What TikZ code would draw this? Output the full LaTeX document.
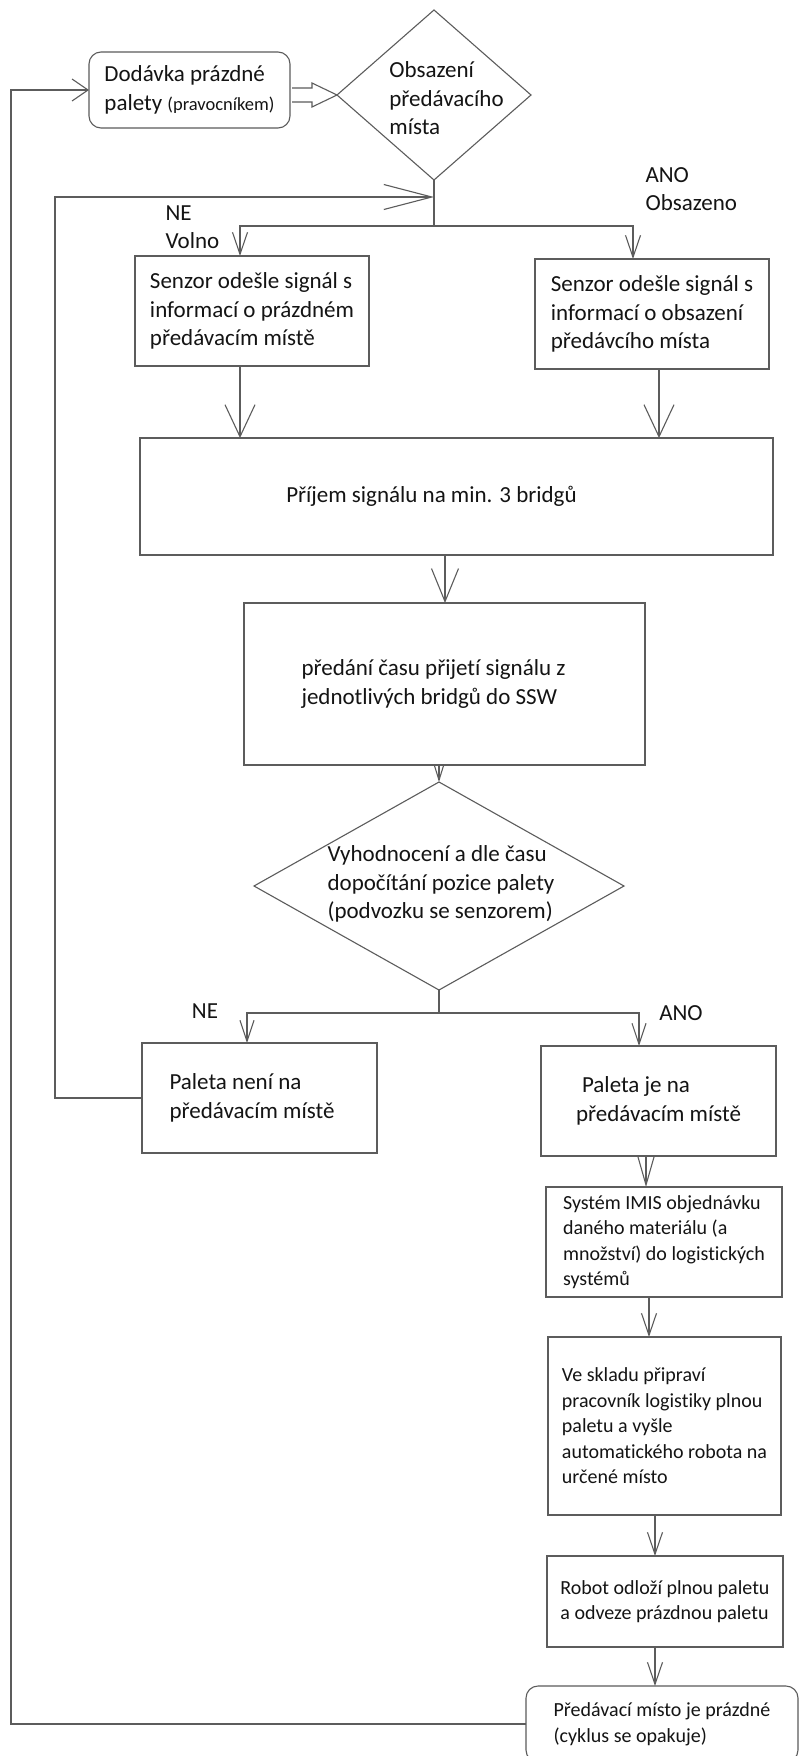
\documentclass[tikz,border=0pt]{standalone}
\usepackage{fontspec}
\setmainfont[Ligatures=NoCommon]{Carlito}
\usetikzlibrary{arrows.meta,shapes.geometric,positioning}
\definecolor{linka}{gray}{0.36}
\definecolor{pismo}{gray}{0.08}

\begin{document}
\begin{tikzpicture}[x=1pt, y=-1pt, line width=1.1pt,
  krok/.style={draw=linka, rectangle, align=left, inner sep=0pt, outer sep=0pt,
    text=pismo, font=\fontsize{23}{28.5}\selectfont},
  krokmaly/.style={krok, font=\fontsize{20}{25.5}\selectfont},
  rozhod/.style={draw=linka, diamond, inner sep=0pt, outer sep=0pt},
  popis/.style={text=pismo, align=left, inner sep=0pt, font=\fontsize{23}{28.5}\selectfont},
  cara/.style={draw=linka},
  sipka/.style={draw=linka, -{Straight Barb[length=22pt, width=15pt]}},
  velka/.style={-{Straight Barb[length=32pt, width=30pt]}}]

  \clip (0,0) rectangle (802,1756);
  \fill[white] (0,0) rectangle (802,1756);

  % start and first decision
  \node[krok, rounded corners=12pt, minimum width=201pt, minimum height=76pt] (start) at (189.5,90)
    {Dodávka prázdné\\palety {\fontsize{18.5}{22}\selectfont(pravocníkem)}};
  \node[rozhod, minimum width=194pt, minimum height=170pt] (q1) at (434,95) {};
  \node[popis] (q1txt) at (446.5,98.5) {Obsazení\\předávacího\\místa};

  % branch labels
  \node[popis, anchor=west] (lblNE1) at (165,227) {NE\\Volno};
  \node[popis, anchor=west] (lblANO1) at (645,189) {ANO\\Obsazeno};

  % sensor boxes
  \node[krok, minimum width=234pt, minimum height=110pt] (senL) at (252,311)
    {Senzor odešle signál s\\informací o prázdném\\předávacím místě};
  \node[krok, minimum width=234pt, minimum height=110pt] (senR) at (652,314)
    {Senzor odešle signál s\\informací o obsazení\\předávcího místa};

  % bridges
  \node[krok, minimum width=633pt, minimum height=117pt] (prijem) at (456.5,496.5)
    {Příjem signálu na min. 3 bridgů\hspace*{50pt}};
  \node[krok, minimum width=401pt, minimum height=162pt] (predani) at (444.5,684)
    {předání času přijetí signálu z\hspace*{22pt}\\jednotlivých bridgů do SSW};

  % second decision
  \node[rozhod, minimum width=370pt, minimum height=208pt] (q2) at (439,886) {};
  \node[popis] (q2txt) at (441,884)
    {Vyhodnocení a dle času\\dopočítání pozice palety\\(podvozku se senzorem)};
  \node[popis] (lblNE2) at (205,1011) {NE};
  \node[popis] (lblANO2) at (681,1013) {ANO};

  \node[krok, minimum width=235pt, minimum height=110pt] (nene) at (259.5,1098)
    {Paleta není na\\předávacím místě\hspace*{15pt}};
  \node[krok, minimum width=235pt, minimum height=110pt] (ano) at (658.5,1101)
    {\hspace*{6pt}Paleta je na\\předávacím místě};

  % logistics chain
  \node[krokmaly, minimum width=236pt, minimum height=110pt] (imis) at (664,1242)
    {Systém IMIS objednávku\\daného materiálu (a\\množství) do logistických\\systémů};
  \node[krokmaly, minimum width=233pt, minimum height=178pt] (sklad) at (664.5,1426)
    {Ve skladu připraví\\pracovník logistiky plnou\\paletu a vyšle\\automatického robota na\\určené místo};
  \node[krokmaly, minimum width=236pt, minimum height=91pt] (robot) at (665,1601.5)
    {Robot odloží plnou paletu\\a odveze prázdnou paletu};
  \node[krokmaly, rounded corners=12pt, anchor=north west, minimum width=272pt, minimum height=76pt]
    (konec) at (526,1686) {Předávací místo je prázdné\\(cyklus se opakuje)};

  % helper points
  \coordinate (split1) at (434,226);
  \coordinate (join1) at (434,197);
  \coordinate (fbroh) at (55,197);
  \coordinate (split2) at (439,1013);
  \coordinate (loopL) at (11,1724);
  \coordinate (kL) at (240,0);
  \coordinate (kR) at (633,0);
  \coordinate (kR2) at (659,0);
  \coordinate (kM) at (445,0);
  \coordinate (kNE) at (247,0);
  \coordinate (kANO) at (639,0);
  \coordinate (kS1) at (646,0);
  \coordinate (kS2) at (649,0);
  \coordinate (kS3) at (655,0);

  % start -> q1 (hollow arrow)
  \draw[cara] (q1.west) ++(-45,-7) -- ++(20,0) -- ++(0,-5) -- (q1.west)
    -- ++(-25,12) -- ++(0,-5) -- ++(-20,0);

  % q1 branches
  \draw[cara] (q1.south) -- (split1);
  \draw[sipka] (split1) -| (senL.north -| kL);
  \draw[sipka] (split1) -| (senR.north -| kR);
  \draw[sipka, velka] (senL.south -| kL) -- (prijem.north -| kL);
  \draw[sipka, velka] (senR.south -| kR2) -- (prijem.north -| kR2);
  \draw[sipka, -{Straight Barb[length=33pt, width=27pt]}] (prijem.south -| kM) -- (predani.north -| kM);
  \draw[sipka, -{Straight Barb[length=16pt, width=10pt]}] (predani.south -| q2.north) -- (q2.north);

  % q2 branches
  \draw[cara] (q2.south) -- (split2);
  \draw[sipka, -{Straight Barb[length=21pt, width=14pt]}] (split2) -| (nene.north -| kNE);
  \draw[sipka, -{Straight Barb[length=21pt, width=14pt]}] (split2) -| (ano.north -| kANO);

  % back to the first decision
  \draw[sipka, -{Straight Barb[length=48pt, width=25pt]}] (nene.west) -| (fbroh) -- (join1);

  % chain down the right side
  \draw[sipka, -{Straight Barb[length=28pt, width=16pt]}] (ano.south -| kS1) -- (imis.north -| kS1);
  \draw[sipka] (imis.south -| kS2) -- (sklad.north -| kS2);
  \draw[sipka] (sklad.south -| kS3) -- (robot.north -| kS3);
  \draw[sipka] (robot.south -| kS3) -- (konec.north -| kS3);

  % cycle repeats
  \draw[sipka, -{Straight Barb[length=16pt, width=22pt]}] (konec.west) -- (loopL)
    -- (loopL |- start.west) -- (start.west);

\end{tikzpicture}
\end{document}
